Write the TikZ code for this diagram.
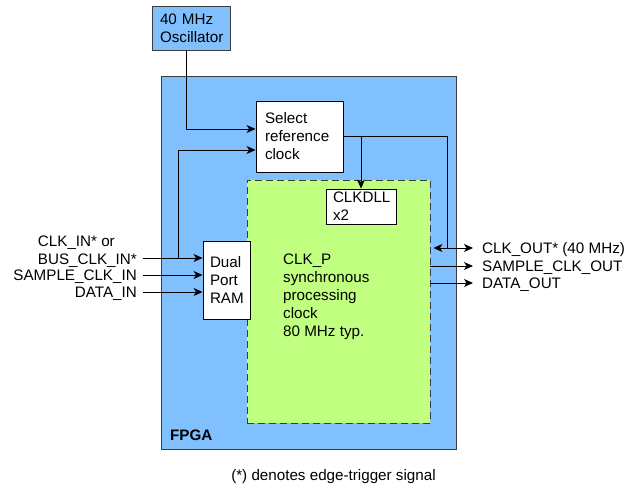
\documentclass[tikz,border=0pt]{standalone}
\usepackage{fontspec}
\setmainfont{Liberation Sans}
\definecolor{FpgaBlue}{RGB}{128, 192, 255}
\definecolor{ClockGreen}{RGB}{192, 255, 128}
\definecolor{EdgeGray}{RGB}{60, 60, 60}
\usetikzlibrary{arrows.meta, positioning}

\begin{document}
\begin{tikzpicture}[x=1pt, y=-1pt, >={Stealth[length=9pt, width=8pt, inset=2.5pt]},
    every node/.style={font=\fontsize{15.2}{18}\selectfont, inner sep=0pt},
    blockbox/.style={draw, fill=white, line width=0.9pt, align=left},
    sigline/.style={line width=0.9pt}]
    \useasboundingbox (0,0) rectangle (638,486);
    % FPGA and processing clock domain
    \node[draw=EdgeGray, fill=FpgaBlue, line width=0.9pt, minimum width=295pt, minimum height=373pt] (fpga) at (308.5,262.5) {};
    \node[anchor=base west, font=\fontsize{15.2}{18}\selectfont\bfseries] (fpgalbl) at (170,441) {FPGA};
    \node[draw=EdgeGray, dashed, dash pattern=on 7pt off 4pt, fill=ClockGreen, line width=0.9pt, minimum width=183pt, minimum height=243pt] (clkp) at (338.5,301.5) {};
    \node[anchor=west, align=left] (clkptxt) at (283,296.5) {CLK\_P\\ synchronous\\ processing\\ clock\\ 80 MHz typ.};
    % Blocks
    \node[blockbox, draw=EdgeGray, fill=FpgaBlue, minimum width=78pt, minimum height=44pt, text width=62pt] (osc) at (191,28) {40 MHz\\ Oscillator};
    \node[blockbox, minimum width=87pt, minimum height=71pt, text width=69pt] (selref) at (299.5,136.5) {Select\\ reference\\ clock};
    \node[blockbox, minimum width=70pt, minimum height=35pt, text width=56pt] (clkdll) at (361,206.5) {CLKDLL\\ x2};
    \node[blockbox, minimum width=47pt, minimum height=78pt, text width=33pt] (ram) at (226.5,280) {Dual\\ Port\\ RAM};
    % Inputs
    \node[anchor=east, align=left] (clkin) at (137,252) {CLK\_IN* or\\ BUS\_CLK\_IN*};
    \node[anchor=base east] (smpin) at (137,280.5) {SAMPLE\_CLK\_IN};
    \node[anchor=base east] (datain) at (137,297.5) {DATA\_IN};
    \coordinate (busclk) at (143,258);
    \coordinate (bustap) at (178,258);
    \coordinate (smptip) at (143,275);
    \coordinate (datatip) at (143,292);
    \draw[sigline, ->] (busclk) -- (busclk -| ram.west);
    \draw[sigline, ->] (smptip) -- (smptip -| ram.west);
    \draw[sigline, ->] (datatip) -- (datatip -| ram.west);
    \draw[sigline, ->] (bustap) |- ([yshift=-13.5pt]selref.west);
    \draw[sigline, ->] ([xshift=-5pt]osc.south) |- ([yshift=7.5pt]selref.west);
    % Outputs
    \node[anchor=base west] (clkout) at (482,253.5) {CLK\_OUT* (40 MHz)};
    \node[anchor=base west] (smpout) at (482,271.5) {SAMPLE\_CLK\_OUT};
    \node[anchor=base west] (dataout) at (482,288.5) {DATA\_OUT};
    \coordinate (clkoutend) at (473,248);
    \coordinate (smpoutend) at (473,266);
    \coordinate (dataoutend) at (473,283);
    \draw[sigline] (selref.east) -| ([xshift=17pt]clkp.east |- clkoutend);
    \draw[sigline, ->] (selref.east -| clkdll) -- (clkdll.north);
    \draw[sigline, <->] ([xshift=3pt]clkp.east |- clkoutend) -- (clkoutend);
    \draw[sigline, ->] (clkp.east |- smpoutend) -- (smpoutend);
    \draw[sigline, ->] (clkp.east |- dataoutend) -- (dataoutend);
    % Note
    \node[anchor=base] (note) at (333.5,481) {(*) denotes edge-trigger signal};
\end{tikzpicture}
\end{document}
